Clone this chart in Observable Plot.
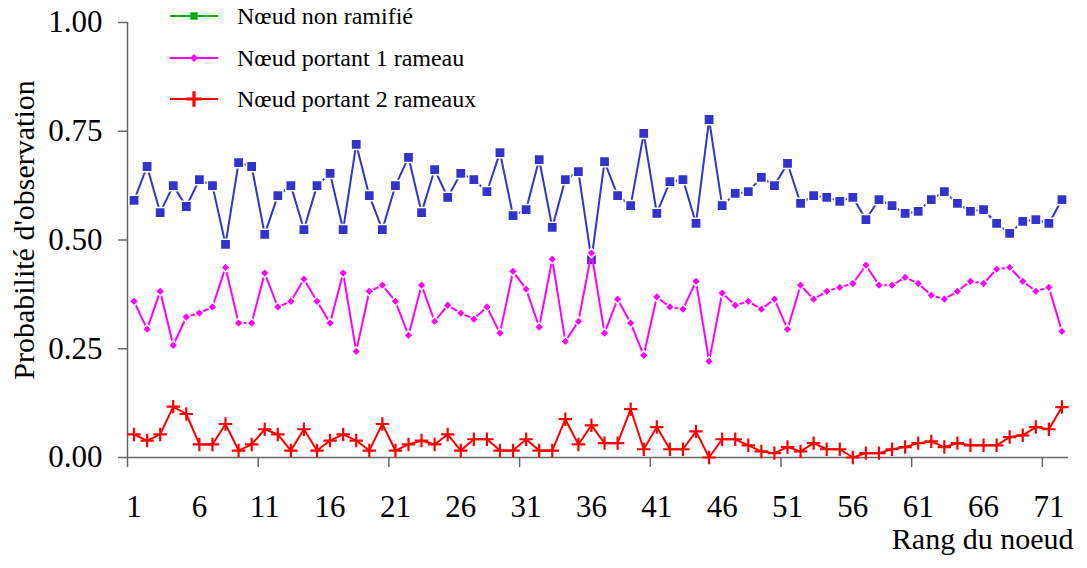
<!DOCTYPE html>
<html><head><meta charset="utf-8">
<script src="https://cdn.jsdelivr.net/npm/d3@7"></script>
<script src="https://cdn.jsdelivr.net/npm/@observablehq/plot@0.6"></script>
<style>
body{margin:0;background:#fff;}
#wrap{position:relative;width:1087px;height:568px;font-family:'Liberation Serif','Times New Roman',serif;}
#legend{position:absolute;left:0;top:0;width:520px;height:120px;pointer-events:none;}
</style></head><body>
<div id="wrap"><div id="chart"></div><svg id="legend"></svg></div>
<script>
// ---- data ----
const rang = d3.range(1, 73);
const nonRamifie = [0.591,0.669,0.563,0.625,0.577,0.639,0.625,0.490,0.678,0.669,0.513,0.602,0.625,0.524,0.625,0.653,0.524,0.720,0.602,0.524,
  0.625,0.690,0.563,0.662,0.598,0.653,0.639,0.611,0.701,0.556,0.570,0.685,0.529,0.639,0.657,0.455,0.680,0.602,0.579,0.745,
  0.561,0.634,0.639,0.538,0.777,0.579,0.607,0.611,0.644,0.625,0.676,0.584,0.602,0.598,0.589,0.598,0.547,0.593,0.579,0.561,
  0.566,0.593,0.611,0.584,0.566,0.570,0.538,0.515,0.543,0.547,0.538,0.593];
const unRameau = [0.359,0.295,0.382,0.258,0.323,0.332,0.346,0.437,0.309,0.309,0.424,0.346,0.359,0.410,0.359,0.309,0.424,0.244,0.382,0.396,
  0.359,0.281,0.396,0.313,0.350,0.332,0.318,0.346,0.286,0.428,0.387,0.300,0.456,0.267,0.313,0.470,0.286,0.364,0.309,0.235,
  0.369,0.346,0.341,0.405,0.221,0.378,0.350,0.359,0.341,0.364,0.295,0.396,0.364,0.382,0.391,0.400,0.442,0.396,0.396,0.414,
  0.400,0.373,0.364,0.382,0.405,0.400,0.433,0.437,0.405,0.382,0.391,0.290];
const deuxRameaux = [0.053,0.039,0.053,0.117,0.100,0.030,0.030,0.077,0.016,0.030,0.065,0.053,0.016,0.065,0.016,0.039,0.053,0.039,0.016,0.077,
  0.016,0.030,0.039,0.030,0.053,0.016,0.042,0.042,0.016,0.016,0.042,0.016,0.016,0.088,0.030,0.074,0.033,0.033,0.111,0.019,
  0.070,0.019,0.019,0.060,0.000,0.042,0.042,0.028,0.014,0.010,0.024,0.014,0.033,0.019,0.019,0.000,0.010,0.010,0.019,0.024,
  0.033,0.037,0.024,0.033,0.028,0.028,0.028,0.047,0.051,0.070,0.065,0.116];
const seriesNames = ["Nœud non ramifié", "Nœud portant 1 rameau", "Nœud portant 2 rameaux"];
const seriesColors = ["#3333cc", "#ff00ff", "#ff0000"];
const legendColors = ["#00aa00", "#ff00ff", "#ff0000"];
const xTickLabels = [1,6,11,16,21,26,31,36,41,46,51,56,61,66,71];
const xTickMarks = [0.5,10.5,20.5,30.5,40.5,50.5,60.5,70.5];
const yTicks = [0, 0.25, 0.5, 0.75, 1];
const xLabel = "Rang du noeud";
const yLabel = "Probabilité d'observation";

// ---- chart ----
const xDomain = [0.5, 72.5];
const s1 = rang.map((r, i) => ({rang: r, v: nonRamifie[i]}));
const s2 = rang.map((r, i) => ({rang: r, v: unRameau[i]}));
const s3 = rang.map((r, i) => ({rang: r, v: deuxRameaux[i]}));
const FONT = "'Liberation Serif', 'Times New Roman', serif";
const AX = "#666";

const chart = Plot.plot({
  width: 1087, height: 568,
  marginLeft: 127, marginRight: 19, marginTop: 22, marginBottom: 111,
  style: {fontFamily: FONT, background: "#fff", color: "#000"},
  x: {domain: xDomain},
  y: {domain: [0, 1]},
  marks: [
    Plot.ruleX([xDomain[0]], {y1: 0, y2: 1, stroke: AX, strokeWidth: 1.5}),
    Plot.ruleY([0], {x1: xDomain[0], x2: xDomain[1], stroke: AX, strokeWidth: 1.5}),
    Plot.axisX({ticks: xTickMarks, tickFormat: () => "", tickSize: 10, stroke: AX, strokeWidth: 1.5, label: null}),
    Plot.axisX({ticks: xTickLabels, tickFormat: d => d, tickSize: 0, tickPadding: 37, fill: "#000", fontSize: 31, label: null}),
    Plot.axisY({ticks: yTicks, tickFormat: d3.format(".2f"), tickSize: 9, tickPadding: 16, stroke: AX, strokeWidth: 1.5, fill: "#000", fontSize: 31, label: null}),
    Plot.text([xLabel], {frameAnchor: "bottom-right", textAnchor: "end", dx: 5, dy: 91, fontSize: 30, fill: "#000"}),
    Plot.text([yLabel], {frameAnchor: "left", textAnchor: "middle", rotate: -90, dx: -103, dy: -10, fontSize: 30, fill: "#000"}),
    Plot.line(s1, {x: "rang", y: "v", stroke: seriesColors[0], strokeWidth: 2}),
    Plot.dot(s1, {x: "rang", y: "v", symbol: "square", r: 5.8, fill: seriesColors[0], stroke: "#fff", strokeWidth: 1.5}),
    Plot.line(s2, {x: "rang", y: "v", stroke: seriesColors[1], strokeWidth: 2}),
    Plot.dot(s2, {x: "rang", y: "v", symbol: "diamond2", r: 4.2, fill: seriesColors[1], stroke: "#fff", strokeWidth: 1.5}),
    Plot.line(s3, {x: "rang", y: "v", stroke: seriesColors[2], strokeWidth: 2}),
    Plot.dot(s3, {x: "rang", y: "v", symbol: "plus", r: 4.4, stroke: seriesColors[2], strokeWidth: 2.2})
  ]
});
document.getElementById("chart").append(chart);

// ---- legend (overlay) ----
const lg = d3.select("#legend");
const rowsY = [16, 58, 99];
const symbols = [d3.symbolSquare, d3.symbolDiamond2, d3.symbolPlus];
const symSizes = [55, 40, 80];
seriesNames.forEach((name, i) => {
  const g = lg.append("g").attr("transform", `translate(0,${rowsY[i]})`);
  g.append("line").attr("x1", 170).attr("x2", 218).attr("y1", 0).attr("y2", 0)
    .attr("stroke", legendColors[i]).attr("stroke-width", 2);
  const sym = g.append("path").attr("transform", "translate(194,0)")
    .attr("d", d3.symbol(symbols[i], symSizes[i])());
  if (i === 2) sym.attr("fill", "none").attr("stroke", legendColors[i]).attr("stroke-width", 3.2);
  else sym.attr("fill", legendColors[i]);
  g.append("text").attr("x", 237).attr("y", 0).attr("dy", "0.35em")
    .attr("font-family", FONT).attr("font-size", 24).attr("fill", "#000").text(name);
});
</script>
</body></html>
